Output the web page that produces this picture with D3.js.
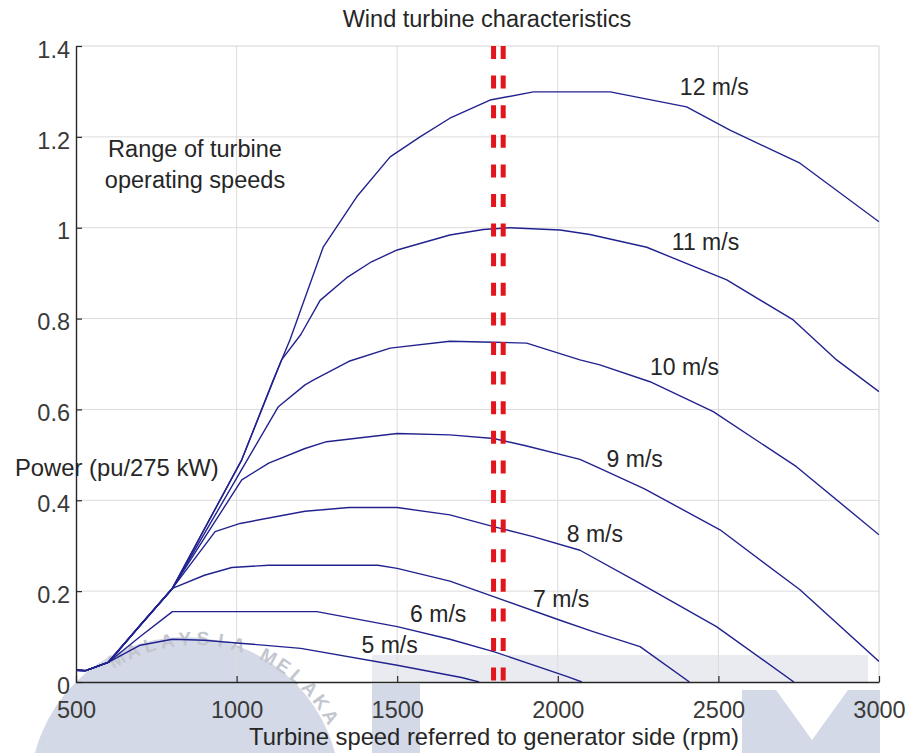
<!DOCTYPE html>
<html>
<head>
<meta charset="utf-8">
<script src="https://cdn.jsdelivr.net/npm/d3@7"></script>
<style>
  body { margin: 0; background: #fff; }
  text { font-family: "Liberation Sans", Arial, sans-serif; }
</style>
</head>
<body>
<script>
var width = 909;
var height = 753;

// tick labels
var rpmTicks = [500, 1000, 1500, 2000, 2500, 3000];
var powerTicks = [0, 0.2, 0.4, 0.6, 0.8, 1, 1.2, 1.4];

// power curves [rpm, pu], one per wind speed
var speed5 = [[500,0.026],[530,0.025],[600,0.043],[700,0.081],[800,0.094],[900,0.092],[1000,0.086],[1200,0.074],[1500,0.037],[1700,0.010],[1755,0]];
var speed6 = [[500,0.026],[530,0.025],[600,0.043],[700,0.100],[800,0.155],[1250,0.155],[1500,0.122],[1664,0.094],[1800,0.067],[2030,0.012],[2075,0]];
var speed7 = [[500,0.026],[530,0.025],[600,0.043],[700,0.125],[800,0.206],[900,0.235],[985,0.252],[1100,0.257],[1440,0.257],[1500,0.250],[1664,0.222],[1800,0.188],[2007,0.136],[2110,0.111],[2256,0.078],[2410,0]];
var speed8 = [[500,0.026],[530,0.025],[600,0.043],[700,0.125],[800,0.206],[933,0.331],[1011,0.349],[1213,0.376],[1350,0.384],[1500,0.384],[1664,0.368],[1800,0.342],[1923,0.320],[2069,0.290],[2256,0.217],[2494,0.122],[2735,0]];
var speed9 = [[500,0.026],[530,0.025],[600,0.043],[700,0.125],[800,0.206],[900,0.317],[1016,0.445],[1100,0.482],[1213,0.514],[1280,0.529],[1500,0.547],[1664,0.544],[1800,0.536],[1900,0.520],[2069,0.490],[2131,0.470],[2270,0.425],[2505,0.335],[2754,0.203],[3000,0.045]];
var speed10 = [[500,0.026],[530,0.025],[600,0.043],[700,0.125],[800,0.206],[900,0.327],[1016,0.468],[1130,0.606],[1213,0.654],[1240,0.665],[1350,0.706],[1478,0.735],[1664,0.750],[1800,0.748],[1903,0.746],[2069,0.709],[2131,0.698],[2287,0.661],[2484,0.595],[2743,0.474],[3000,0.324]];
var speed11 = [[500,0.026],[530,0.025],[600,0.043],[700,0.125],[800,0.206],[900,0.337],[1016,0.489],[1140,0.709],[1200,0.765],[1260,0.840],[1343,0.890],[1420,0.925],[1500,0.951],[1664,0.984],[1768,0.996],[1850,1.000],[2007,0.995],[2100,0.985],[2277,0.957],[2526,0.885],[2733,0.797],[2868,0.709],[3000,0.639]];
var speed12 = [[500,0.026],[530,0.025],[600,0.043],[700,0.125],[800,0.206],[900,0.337],[1016,0.489],[1114,0.665],[1166,0.753],[1270,0.958],[1374,1.068],[1478,1.156],[1571,1.200],[1664,1.241],[1789,1.281],[1924,1.299],[2163,1.299],[2401,1.266],[2536,1.215],[2754,1.142],[3000,1.013]];

var curves = [speed5, speed6, speed7, speed8, speed9, speed10, speed11, speed12];

// curve labels and where they sit (rpm, pu of text baseline start)
var speedNames = ["5 m/s", "6 m/s", "7 m/s", "8 m/s", "9 m/s", "10 m/s", "11 m/s", "12 m/s"];
var nameRpm = [1389, 1540, 1923, 2028, 2152, 2287, 2355, 2380];
var namePower = [0.064, 0.132, 0.165, 0.308, 0.473, 0.676, 0.951, 1.292];

// operating speed limit (double dashed red line)
var limitRpm = [1800, 1830];

var svg = d3.select("body")
    .append("svg")
    .attr("width", width)
    .attr("height", height);

var x = d3.scaleLinear().domain([500, 3000]).range([76, 879]);
var y = d3.scaleLinear().domain([0, 1.4]).range([682, 46]);

// faint scanned watermark behind the plot
var wm = svg.append("g");
wm.append("circle").attr("cx", 185).attr("cy", 792).attr("r", 155).attr("fill", "#d3d9e7");
wm.append("rect").attr("x", 372).attr("y", 655).attr("width", 496).attr("height", 27).attr("fill", "#e9ebf0");
wm.append("rect").attr("x", 372).attr("y", 684).attr("width", 48).attr("height", 69).attr("fill", "#d3d9e7");
wm.append("polygon").attr("points", "742,690 776,690 812,740 848,690 880,690 880,753 742,753").attr("fill", "#d3d9e7");

function arcLetters(word, a0, a1) {
    var step = (a1 - a0) / (word.length - 1);
    word.split("").forEach( (ch, i) => {
        var a = (a0 + i * step) * Math.PI / 180;
        var px = 195 + 150 * Math.sin(a);
        var py = 795 - 150 * Math.cos(a);
        wm.append("text")
            .attr("transform", `translate(${px},${py}) rotate(${a0 + i * step})`)
            .attr("text-anchor", "middle")
            .attr("fill", "#c3c6ce")
            .style("font-size", "19px")
            .style("font-weight", "bold")
            .text(ch);
    });
}
arcLetters("MALAYSIA", -30, 16);
arcLetters("MELAKA", 28, 60);

// grid
svg.append("g").selectAll("line")
    .data(rpmTicks.slice(1, -1))
    .enter().append("line")
    .attr("x1", (d) => x(d)).attr("x2", (d) => x(d))
    .attr("y1", y(0)).attr("y2", y(1.4))
    .attr("stroke", "#dcdcdc").attr("stroke-width", 1);
svg.append("g").selectAll("line")
    .data(powerTicks.slice(1, -1))
    .enter().append("line")
    .attr("y1", (d) => y(d)).attr("y2", (d) => y(d))
    .attr("x1", x(500)).attr("x2", x(3000))
    .attr("stroke", "#dcdcdc").attr("stroke-width", 1);

// light box edges top / right
svg.append("path")
    .attr("d", `M${x(500)},${y(1.4)} H${x(3000)} V${y(0)}`)
    .attr("fill", "none").attr("stroke", "#d4d4d4");

svg.append("clipPath").attr("id", "plotClip")
    .append("rect")
    .attr("x", x(500)).attr("y", y(1.4))
    .attr("width", x(3000) - x(500)).attr("height", y(0) - y(1.4));

var line = d3.line()
    .x((d) => x(d[0]))
    .y((d) => y(d[1]));

svg.append("g")
    .attr("clip-path", "url(#plotClip)")
    .selectAll("path")
    .data(curves)
    .enter().append("path")
    .attr("d", line)
    .attr("fill", "none")
    .attr("stroke", "#22228f")
    .attr("stroke-width", 1.4)
    .attr("stroke-linejoin", "round");

// red dashed limit
svg.append("g").selectAll("line")
    .data(limitRpm)
    .enter().append("line")
    .attr("x1", (d) => x(d)).attr("x2", (d) => x(d))
    .attr("y1", y(1.4)).attr("y2", y(0))
    .attr("stroke", "#e2141c")
    .attr("stroke-width", 5)
    .attr("stroke-dasharray", "13,16.6");

// axes
var xAxis = d3.axisBottom(x)
    .tickValues(rpmTicks)
    .tickFormat(d3.format("d"))
    .tickSizeInner(-6).tickSizeOuter(0)
    .tickPadding(19);
var yAxis = d3.axisLeft(y)
    .tickValues(powerTicks)
    .tickFormat((d) => String(d))
    .tickSizeInner(-6).tickSizeOuter(0)
    .tickPadding(6);

var gx = svg.append("g").attr("transform", `translate(0,${y(0)})`).call(xAxis);
var gy = svg.append("g").attr("transform", `translate(${x(500)},0)`).call(yAxis);
[gx, gy].forEach( (g) => {
    g.attr("font-family", null).attr("font-size", null);
    g.select(".domain").attr("stroke", "#262626").attr("stroke-width", 1.4);
    g.selectAll(".tick line").attr("stroke", "#262626").attr("stroke-width", 1.2);
    g.selectAll(".tick text")
        .attr("fill", "#3a3a3a")
        .style("font-size", "23.5px");
});
gy.selectAll(".tick text").attr("dy", "0.48em");

// curve labels
svg.append("g").selectAll("text")
    .data(speedNames)
    .enter().append("text")
    .attr("x", (d, i) => x(nameRpm[i]))
    .attr("y", (d, i) => y(namePower[i]))
    .attr("fill", "#262626")
    .style("font-size", "23px")
    .text((d) => d);

// titles and annotations
svg.append("text")
    .attr("x", 487).attr("y", 27)
    .attr("text-anchor", "middle")
    .attr("fill", "#262626")
    .style("font-size", "23.5px")
    .text("Wind turbine characteristics");

svg.append("text")
    .attr("x", 494).attr("y", 745)
    .attr("text-anchor", "middle")
    .attr("fill", "#262626")
    .style("font-size", "23.8px")
    .text("Turbine speed referred to generator side (rpm)");

svg.append("text")
    .attr("x", 15).attr("y", 476)
    .attr("fill", "#262626")
    .style("font-size", "23.8px")
    .text("Power (pu/275 kW)");

var note = svg.append("text")
    .attr("text-anchor", "middle")
    .attr("fill", "#262626")
    .style("font-size", "23.5px");
note.append("tspan").attr("x", 195).attr("y", 157).text("Range of turbine");
note.append("tspan").attr("x", 195).attr("y", 188).text("operating speeds");
</script>
</body>
</html>
